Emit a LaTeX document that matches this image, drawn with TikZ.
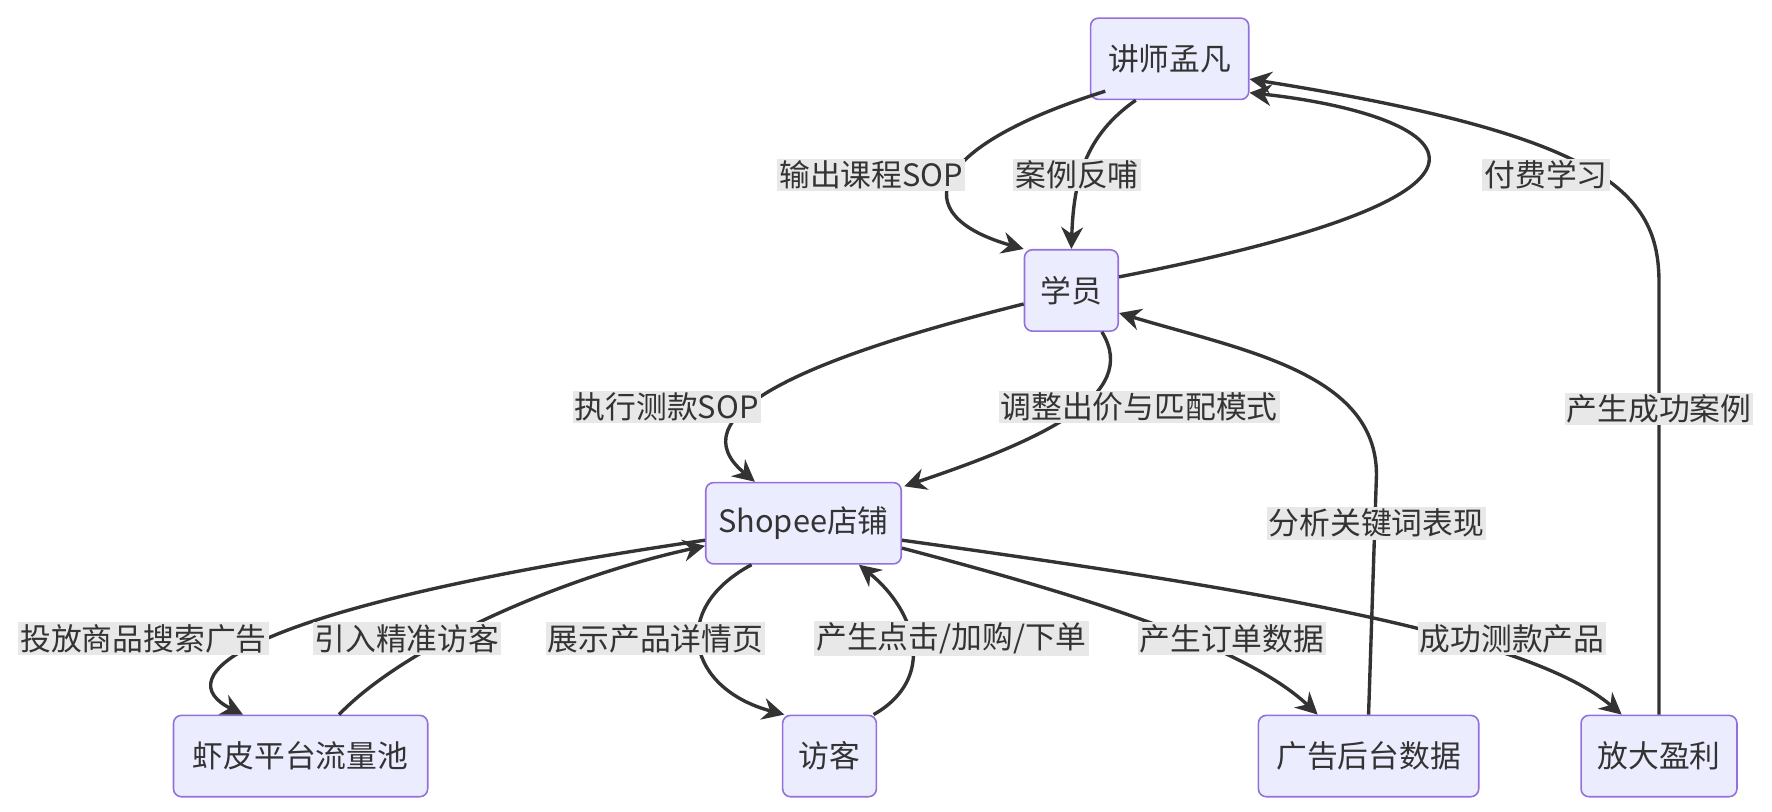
\documentclass[tikz,border=0pt]{standalone}
\usepackage{fontspec}
\setmainfont{Noto Sans CJK SC}
\usetikzlibrary{arrows.meta,calc}
\definecolor{boxfill}{HTML}{ECECFF}
\definecolor{boxline}{HTML}{9370DB}
\definecolor{edge}{HTML}{333333}
\definecolor{lblbg}{HTML}{E8E8E8}
\tikzset{
  box/.style={draw=boxline, fill=boxfill, line width=0.8pt, rounded corners=4pt,
    minimum height=1.44cm, font=\fontsize{15.5}{18}\selectfont, text=edge},
  lbl/.style={fill=lblbg, inner sep=1pt, font=\fontsize{15.5}{18}\selectfont, text=edge},
  link/.style={draw=edge, line width=1.7pt, -{Stealth[length=11pt,width=11pt]}}
}
\begin{document}
\begin{tikzpicture}[x=0.02cm, y=-0.02cm]
\useasboundingbox (0,0) rectangle (1568,718);
% nodes
\node (T) at (1035,52)  [box, minimum width=2.8cm] {讲师孟凡};
\node (S) at (948,257)  [box, minimum width=1.66cm] {学员};
\node (P) at (711,463)  [box, minimum width=3.46cm] {Shopee店铺};
\node (H) at (266,669)  [box, minimum width=4.5cm] {虾皮平台流量池};
\node (V) at (734,669)  [box, minimum width=1.66cm] {访客};
\node (A) at (1211,669) [box, minimum width=3.9cm] {广告后台数据};
\node (F) at (1468,669) [box, minimum width=2.76cm] {放大盈利};
% connectors
\draw[link] ($(T.south)+(-57,-8)$) .. controls (820,130) and (800,190) .. (S.north west);
\draw[link] ($(T.south)+(-30,0)$) .. controls (960,120) and (950,160) .. (S.north);
\draw[link] ($(S.east)+(0,-12)$) .. controls (1400,165) and (1270,100) .. ($(T.east)+(0,30)$);
\draw[link] (F.north) -- (1468,250) .. controls (1468,170) and (1420,120) .. ($(T.east)+(0,18)$);
\draw[link] ($(S.west)+(0,12)$) .. controls (700,320) and (600,370) .. ($(P.north)+(-43,0)$);
\draw[link] ($(S.south)+(27,0)$) .. controls (1010,350) and (920,390) .. ($(P.north east)+(2,4)$);
\draw[link] (A.north) -- (1218,420) .. controls (1218,330) and (1100,310) .. ($(S.east)+(0,20)$);
\draw[link] ($(P.west)+(0,15)$) .. controls (200,540) and (150,600) .. ($(H.north)+(-51,0)$);
\draw[link] ($(H.north)+(34,0)$) .. controls (360,570) and (500,510) .. ($(P.west)+(0,20)$);
\draw[link] ($(P.south)+(-46,0)$) .. controls (590,540) and (610,610) .. ($(V.north)+(-40,0)$);
\draw[link] ($(V.north)+(39,0)$) .. controls (830,600) and (810,540) .. ($(P.south)+(49,0)$);
\draw[link] ($(P.east)+(0,22)$) .. controls (950,525) and (1100,570) .. ($(A.north)+(-45,0)$);
\draw[link] ($(P.east)+(0,15)$) .. controls (1100,520) and (1350,560) .. ($(F.north)+(-33,0)$);
% labels
\node (l1) at (771,155)  [lbl] {输出课程SOP};
\node (l2) at (953,155)  [lbl] {案例反哺};
\node (l3) at (1368,155) [lbl] {付费学习};
\node (l4) at (1468,362) [lbl] {产生成功案例};
\node (l5) at (590,360)  [lbl] {执行测款SOP};
\node (l6) at (1008,360) [lbl] {调整出价与匹配模式};
\node (l7) at (1218,463) [lbl] {分析关键词表现};
\node (l8) at (127,565)  [lbl] {投放商品搜索广告};
\node (l9) at (360,565)  [lbl] {引入精准访客};
\node (l10) at (580,565) [lbl] {展示产品详情页};
\node (l11) at (842,565) [lbl] {产生点击/加购/下单};
\node (l12) at (1090,565) [lbl] {产生订单数据};
\node (l13) at (1338,565) [lbl] {成功测款产品};
\end{tikzpicture}
\end{document}
